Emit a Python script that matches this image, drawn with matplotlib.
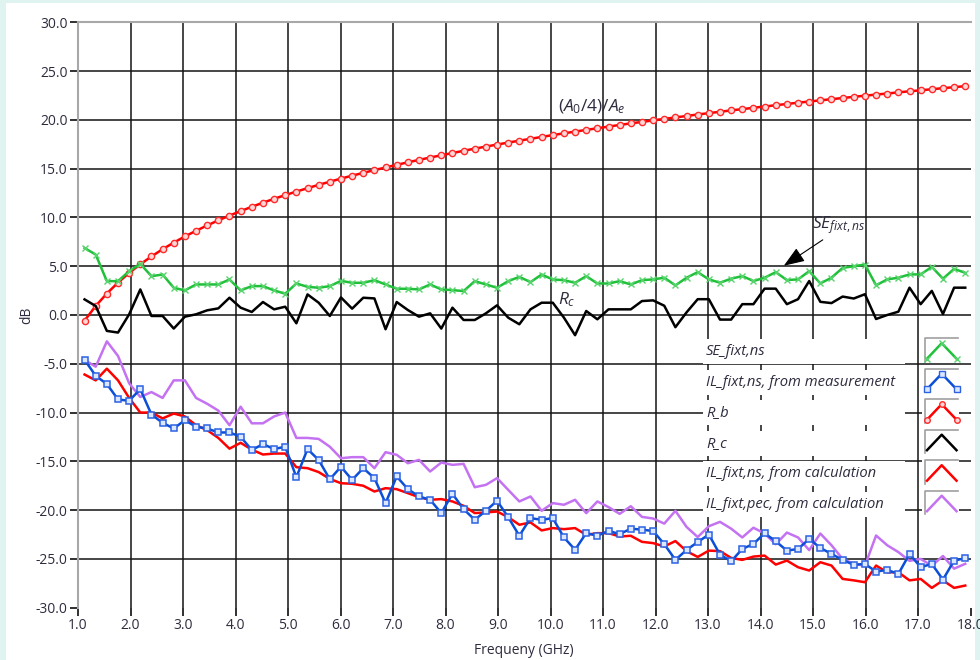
import numpy as np
import matplotlib.pyplot as plt
from matplotlib.lines import Line2D
from matplotlib.patches import Rectangle

# sweep points (GHz)
freq = np.linspace(1.125, 17.9, 80)

se_fixt_ns = [6.87, 6.19, 3.47, 3.47, 4.49, 5.24, 3.98, 4.15, 2.79, 2.52,
              3.13, 3.13, 3.13, 3.64, 2.52, 2.96, 2.96, 2.52, 2.18, 3.23,
              2.89, 2.79, 2.96, 3.50, 3.30, 3.30, 3.57, 3.13, 2.69, 2.69,
              2.62, 3.13, 2.62, 2.55, 2.45, 3.47, 3.13, 2.79, 3.47, 3.91,
              3.37, 4.15, 3.64, 3.57, 3.30, 3.98, 3.23, 3.23, 3.47, 3.13,
              3.57, 3.65, 3.82, 3.04, 3.82, 4.39, 3.65, 3.31, 3.72, 3.99,
              3.48, 3.82, 4.39, 3.58, 3.65, 4.49, 3.24, 3.82, 4.83, 5.00,
              5.17, 3.04, 3.65, 3.82, 4.16, 4.16, 4.93, 3.72, 4.73, 4.32]

r_c = [1.60, 0.92, -1.63, -1.80, 0.07, 2.62, -0.10, -0.10, -1.39, -0.17,
       0.07, 0.48, 0.68, 1.77, 0.75, 0.31, 1.33, 0.58, 0.85, -0.85,
       2.11, 1.26, -0.10, 1.80, 0.65, 1.77, 1.70, -1.46, 1.33, 0.51,
       -0.17, 0.17, -1.39, 0.75, -0.51, -0.51, 0.17, 0.99, -0.27, -0.95,
       0.58, 1.26, 1.26, -0.27, -2.07, 0.41, -0.44, 0.58, 0.58, 0.58,
       1.43, 1.50, 0.95, -1.25, 0.27, 1.62, 1.62, -0.47, -0.47, 1.11,
       1.11, 2.70, 2.70, 1.11, 1.62, 3.48, 1.35, 1.22, 1.89, 1.69,
       2.13, -0.41, 0.00, 0.34, 2.80, 1.11, 2.47, 0.10, 2.80, 2.80]

# (A0/4)/Ae
r_b = [-0.58, 0.93, 2.20, 3.32, 4.31, 5.20, 6.00, 6.74, 7.42, 8.05,
       8.63, 9.18, 9.70, 10.19, 10.65, 11.09, 11.51, 11.91, 12.29, 12.65,
       13.00, 13.34, 13.66, 13.98, 14.28, 14.57, 14.85, 15.12, 15.39, 15.65,
       15.90, 16.14, 16.37, 16.60, 16.83, 17.05, 17.26, 17.47, 17.67, 17.87,
       18.06, 18.25, 18.44, 18.62, 18.80, 18.97, 19.14, 19.31, 19.48, 19.64,
       19.79, 19.95, 20.10, 20.25, 20.40, 20.55, 20.69, 20.83, 20.97, 21.10,
       21.24, 21.37, 21.50, 21.63, 21.76, 21.88, 22.00, 22.12, 22.24, 22.36,
       22.48, 22.59, 22.70, 22.82, 22.93, 23.03, 23.14, 23.25, 23.35, 23.46]

il_meas = [-4.59, -6.24, -7.07, -8.66, -8.79, -7.60, -10.20, -11.05, -11.63, -10.78,
           -11.46, -11.63, -12.04, -12.04, -12.48, -13.84, -13.23, -13.74, -13.50, -16.63,
           -13.74, -14.86, -16.84, -15.55, -16.90, -15.70, -16.72, -19.28, -16.55, -17.85,
           -18.60, -18.94, -20.30, -18.33, -19.90, -20.99, -20.07, -19.04, -20.72, -22.63,
           -20.82, -20.99, -20.82, -22.80, -24.06, -22.35, -22.63, -22.12, -22.46, -21.90,
           -22.00, -22.14, -23.48, -25.10, -24.08, -23.27, -22.50, -24.56, -25.24, -23.98,
           -23.46, -22.37, -23.19, -24.15, -23.98, -22.95, -23.87, -24.49, -25.10, -25.61,
           -25.51, -26.30, -26.13, -26.54, -24.49, -25.85, -25.51, -27.12, -25.17, -24.93]

il_calc = [-6.10, -6.70, -5.50, -6.70, -8.50, -10.00, -10.00, -10.60, -10.10, -10.40,
           -11.30, -11.80, -12.60, -13.70, -13.10, -13.80, -14.30, -14.20, -14.20, -15.60,
           -15.70, -16.10, -16.80, -17.24, -17.30, -17.50, -18.09, -17.75, -17.85, -18.26,
           -18.67, -18.94, -18.87, -19.11, -19.56, -20.30, -20.24, -20.14, -20.72, -21.50,
           -21.26, -22.08, -21.84, -21.95, -21.84, -22.53, -22.36, -22.36, -22.70, -22.63,
           -23.25, -23.38, -23.72, -23.17, -24.20, -24.80, -24.15, -24.20, -24.90, -25.10,
           -24.76, -24.66, -25.58, -25.17, -25.85, -26.19, -25.34, -25.68, -27.05, -27.20,
           -27.39, -25.68, -26.37, -26.37, -27.20, -27.05, -27.97, -27.20, -27.97, -27.73]

il_pec = [-4.60, -5.30, -2.70, -4.20, -7.00, -8.40, -7.90, -8.50, -6.70, -6.70,
          -8.50, -9.10, -9.80, -11.30, -9.40, -11.10, -11.10, -10.40, -10.00, -12.60,
          -12.60, -12.70, -13.50, -14.68, -14.57, -14.57, -15.70, -14.06, -14.33, -15.19,
          -14.85, -16.04, -15.12, -15.36, -15.26, -17.65, -17.41, -16.72, -17.92, -19.11,
          -18.60, -20.07, -19.28, -19.45, -18.94, -20.31, -19.11, -19.69, -20.38, -19.60,
          -20.69, -20.86, -21.38, -20.07, -21.72, -22.76, -21.65, -21.20, -21.90, -22.80,
          -21.80, -22.40, -23.50, -22.30, -22.80, -24.10, -22.40, -23.60, -25.00, -25.50,
          -25.70, -22.60, -23.60, -24.30, -25.20, -25.00, -25.70, -24.70, -26.00, -25.50]

legend_labels = ['SE_fixt,ns', 'IL_fixt,ns, from measurement', 'R_b', 'R_c',
                 'IL_fixt,ns, from calculation', 'IL_fixt,pec, from calculation']

xticks = np.arange(1, 19)
yticks = np.arange(-30, 31, 5)

GREEN = '#20c03a'
BLUE = '#0b4fd8'
RED = '#ff0000'
PURPLE = '#c472f2'
TXT = '#2c2c3e'

plt.rcParams['font.family'] = ['Open Sans', 'DejaVu Sans']
plt.rcParams['mathtext.fontset'] = 'custom'
plt.rcParams['mathtext.it'] = 'Open Sans:italic'
plt.rcParams['mathtext.rm'] = 'Open Sans'

W, H = 980, 660

def fx(px):
    return px / W

def fy(py):
    return 1 - py / H

fig = plt.figure(figsize=(9.8, 6.6), dpi=100)
fig.patch.set_facecolor('#dff3f1')
fig.add_artist(Rectangle((fx(6), 0), fx(969), 657 / H, transform=fig.transFigure,
                         fc='white', ec='none', zorder=-1))

ax = fig.add_axes([fx(78), fy(607.7), fx(892.5), 585.4 / H])
ax.set_xlim(1, 18)
ax.set_ylim(-30, 30)

for x in xticks[1:-1]:
    ax.axvline(x, color='#141414', lw=1.1, zorder=1)
for y in yticks[1:-1]:
    ax.axhline(y, color='#141414', lw=1.1, zorder=1)

ax.set_xticks(xticks)
ax.set_xticklabels(['%.1f' % v for v in xticks])
ax.set_yticks(yticks)
ax.set_yticklabels(['%.1f' % v for v in yticks])
ax.tick_params(direction='out', length=6, width=1.3, color='#202020',
               labelsize=10, labelcolor=TXT, pad=1.5)

for s in ['right', 'bottom']:
    ax.spines[s].set_visible(False)
for s in ['left', 'top']:
    ax.spines[s].set_color('#a8a8a8')
    ax.spines[s].set_linewidth(1.5)

ax.plot(freq, r_b, color=RED, lw=1.8, marker='o', ms=4.5, mfc='#ffd6d6', mec='#ff2a2a', mew=1, zorder=3)
ax.plot(freq, r_c, color='black', lw=1.8, zorder=3)
ax.plot(freq, se_fixt_ns, color=GREEN, lw=1.8, marker='x', ms=4, mec='#58d46c', mew=1, zorder=3)
ax.plot(freq, il_pec, color=PURPLE, lw=1.8, zorder=3)
ax.plot(freq, il_calc, color=RED, lw=1.8, zorder=3)
ax.plot(freq, il_meas, color=BLUE, lw=1.8, marker='s', ms=4.8, mfc='#dbe6ff', mec='#2b62e2', mew=1.1, zorder=3)

ax.set_xlabel('Frequeny (GHz)', fontsize=10, color=TXT, labelpad=7)
ax.set_ylabel('dB', fontsize=10, color=TXT, labelpad=1)

ax.text(10.15, 21.3, r'$(A_0/4)/A_e$', fontsize=12.5, color=TXT, va='center', ha='left', zorder=5)
ax.text(10.14, 1.6, r'$R_c$', fontsize=12.5, color=TXT, va='center', ha='left', zorder=5)
ax.text(14.98, 9.2, r'$SE_{fixt,ns}$', fontsize=12.5, color=TXT, va='center', ha='left', zorder=5)
ax.annotate('', xy=(14.40, 4.89), xytext=(15.23, 7.86),
            arrowprops=dict(arrowstyle='-|>,head_length=0.8,head_width=0.3',
                            color='black', lw=0.8, mutation_scale=16), zorder=5)

# legend drawn by hand, LabVIEW style
styles = [dict(color=GREEN, marker='x', ms=4, mec='#58d46c', mew=1),
          dict(color=BLUE, marker='s', ms=4, mfc='#dbe6ff', mec='#2b62e2', mew=1),
          dict(color=RED, marker='o', ms=4, mfc='#ffd6d6', mec='#ff2a2a', mew=1),
          dict(color='black'),
          dict(color=RED),
          dict(color=PURPLE)]

for i, lab in enumerate(legend_labels):
    yc = 351.7 + 30.5 * i
    fig.add_artist(Rectangle((fx(703), fy(yc + 12.5)), fx(202), 25 / H,
                             transform=fig.transFigure, fc='white', ec='none', zorder=2))
    fig.text(fx(706), fy(yc), lab, style='italic', fontsize=10.6, color=TXT,
             va='center', ha='left', zorder=3)
    fig.add_artist(Rectangle((fx(922), fy(yc + 10)), fx(37), 24 / H,
                             transform=fig.transFigure, fc='white', ec='none', zorder=2))
    fig.add_artist(Line2D([fx(925), fx(925), fx(958)], [fy(yc + 10), fy(yc - 13.5), fy(yc - 13.5)],
                          transform=fig.transFigure, color='#a0a0a0', lw=1.2, zorder=3))
    fig.add_artist(Line2D([fx(927), fx(941.7), fx(956.5)], [fy(yc + 7), fy(yc - 8.5), fy(yc + 7)],
                          transform=fig.transFigure, lw=1.8, zorder=4, **styles[i]))

fig.savefig('out.png', dpi=100, facecolor=fig.get_facecolor())
